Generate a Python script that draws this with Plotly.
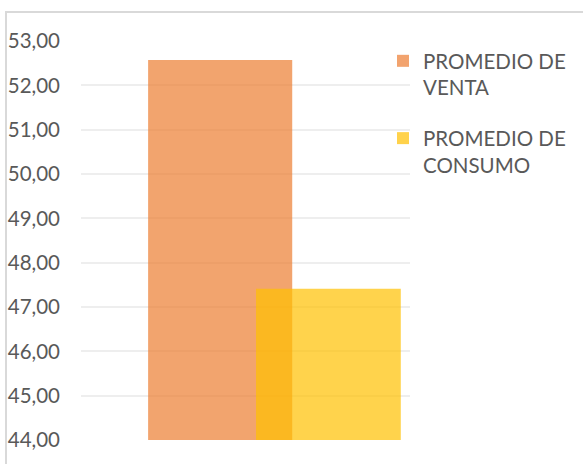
import plotly.graph_objects as go

# values
series_names = ["PROMEDIO DE<br>VENTA", "PROMEDIO DE<br>CONSUMO"]
series_values = [52.57, 47.41]
series_colors = ["#ED7D31", "#FFC000"]
category = [""]
y_ticks = [44, 45, 46, 47, 48, 49, 50, 51, 52, 53]
y_tick_labels = [("%.2f" % v).replace(".", ",") for v in y_ticks]

FONT = "Lato"
TXT = "#595959"

fig = go.Figure()
# bar placement inside the single category slot
offsets = [-0.296, 0.032]
widths = [0.438, 0.44]
for i, (name, val, col) in enumerate(zip(series_names, series_values, series_colors)):
    fig.add_trace(go.Bar(
        x=category, y=[val - y_ticks[0]], base=y_ticks[0], name=name,
        legendgroup="g%d" % i,
        marker=dict(color=col, line=dict(width=0)),
        opacity=0.7, offset=offsets[i], width=widths[i],
        hoverinfo="skip",
    ))

fig.update_layout(
    barmode="overlay",
    width=583, height=464,
    margin=dict(l=81, r=173, t=41, b=24, autoexpand=False),
    paper_bgcolor="white", plot_bgcolor="white",
    font=dict(family=FONT, color=TXT, size=20),
    showlegend=True,
    legend=dict(
        x=0.918, y=1.0, xanchor="left", yanchor="top", valign="top",
        font=dict(family=FONT, size=20.5, color=TXT),
        tracegroupgap=21, itemwidth=30,
        bgcolor="rgba(0,0,0,0)",
    ),
    xaxis=dict(
        range=[-0.5, 0.5], showticklabels=False, showgrid=False,
        zeroline=False, showline=False, fixedrange=True,
    ),
    yaxis=dict(
        range=[44, 53], tickvals=y_ticks, ticktext=y_tick_labels,
        showgrid=True, gridcolor="#EEEEEE", gridwidth=2,
        zeroline=False, showline=False, ticks="",
        ticklabelstandoff=20, fixedrange=True,
        tickfont=dict(family=FONT, size=20.5, color=TXT),
    ),
    shapes=[dict(
        type="rect", xref="paper", yref="paper",
        x0=-0.228, x1=1.8, y0=-0.3, y1=1.0727,
        line=dict(color="#D9D9D9", width=2), fillcolor="rgba(0,0,0,0)",
        layer="below",
    )],
)

fig.write_html("out.html", config={"displayModeBar": False},
               post_script="document.body.style.margin='0';")
